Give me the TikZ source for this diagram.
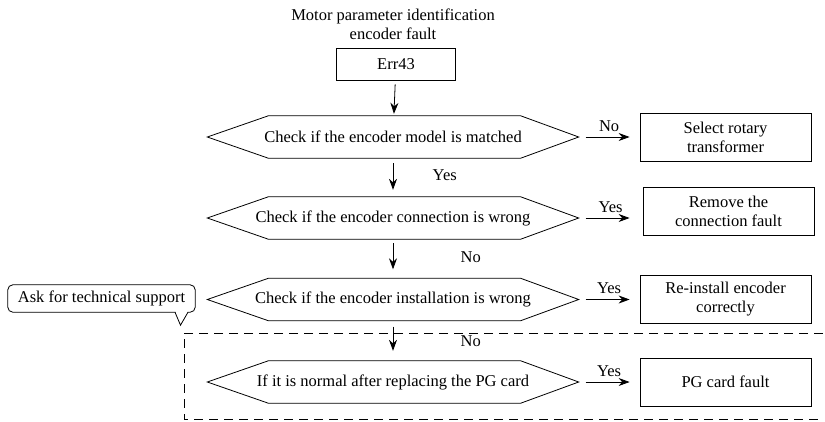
\documentclass[tikz,border=0pt]{standalone}
\usepackage{fontspec}
\setmainfont{Liberation Serif}
\usetikzlibrary{arrows.meta, positioning}

\tikzset{
  flowbox/.style={draw, line width=0.8pt, minimum width=171pt, minimum height=48pt, align=center, inner sep=2pt},
  hexbox/.style={minimum width=371pt, minimum height=42pt, inner sep=0pt},
  flowarrow/.style={-{Stealth[length=11pt, width=8pt]}, line width=0.8pt},
  frame/.style={line width=0.8pt, dash pattern=on 9pt off 6pt}
}
% hexagon outline round a named node
\newcommand{\hexline}[1]{%
  \draw[line width=0.8pt] (#1.west) -- ([xshift=61pt]#1.north west) -- ([xshift=-58pt]#1.north east)
    -- (#1.east) -- ([xshift=-58pt]#1.south east) -- ([xshift=61pt]#1.south west) -- cycle;}

\begin{document}
\begin{tikzpicture}[x=1pt, y=-1pt, >=Stealth, font=\fontsize{16.5}{19}\selectfont]
  \useasboundingbox (0,0) rectangle (825,421);

  % Titel und Start
  \node[align=center] (title) at (393,24) {Motor parameter identification\\encoder fault};
  \node[draw, line width=0.8pt, minimum width=119pt, minimum height=32pt] (err) at (396,64) {Err43};

  % Abfragen
  \node[hexbox] (q1) at (393,137) {Check if the encoder model is matched};
  \node[hexbox] (q2) at (393,218) {Check if the encoder connection is wrong};
  \node[hexbox] (q3) at (393,299.5) {Check if the encoder installation is wrong};
  \node[hexbox] (q4) at (393,382) {If it is normal after replacing the PG card};
  \hexline{q1}
  \hexline{q2}
  \hexline{q3}
  \hexline{q4}

  % Ergebnisse
  \node[flowbox] (r1) at (725.5,137) {Select rotary\\transformer};
  \node[flowbox] (r2) at (728.5,211) {Remove the\\connection fault};
  \node[flowbox] (r3) at (725.5,299) {Re-install encoder\\correctly};
  \node[flowbox] (r4) at (725.5,382) {PG card fault};

  % senkrechte Pfeile
  \draw[flowarrow, shorten <=4pt, shorten >=2pt] (err) -- (q1);
  \draw[flowarrow, shorten <=5pt, shorten >=7pt] (q1) -- (q2) node[pos=0.45, right=36pt] {Yes};
  \draw[flowarrow, shorten <=4pt, shorten >=9pt] (q2) -- (q3) node[pos=0.45, right=64pt] {No};
  \draw[flowarrow, shorten <=6pt, shorten >=10pt] (q3) -- (q4) node[pos=0.5, right=64pt] {No};

  % waagrechte Pfeile
  \draw[flowarrow, shorten <=7pt, shorten >=10pt] (q1.east) -- (q1.east -| r1.west) node[midway, above=2pt] {No};
  \draw[flowarrow, shorten <=7pt, shorten >=13pt] (q2.east) -- (q2.east -| r2.west) node[midway, above=2pt] {Yes};
  \draw[flowarrow, shorten <=7pt, shorten >=10pt] (q3.east) -- (q3.east -| r3.west) node[midway, above=2pt] {Yes};
  \draw[flowarrow, shorten <=7pt, shorten >=10pt] (q4.east) -- (q4.east -| r4.west) node[midway, above=2pt] {Yes};

  % Hinweis
  \node[minimum width=187pt, minimum height=27pt, inner sep=0pt] (ask) at (101.5,298.5) {Ask for technical support};
  \draw[line width=0.8pt, rounded corners=5pt] ([xshift=74pt]ask.south) -- (ask.south west) -- (ask.north west)
    -- (ask.north east) -- (ask.south east) -- ([xshift=86pt]ask.south);
  \draw[line width=0.8pt] ([xshift=73.5pt]ask.south) -- ([xshift=79pt, yshift=-13pt]ask.south) -- ([xshift=86.5pt]ask.south);

  % gestrichelter Rahmen
  \draw[frame] (823,333) -- (184,333) -- (184,419) -- (823,419);
\end{tikzpicture}
\end{document}
